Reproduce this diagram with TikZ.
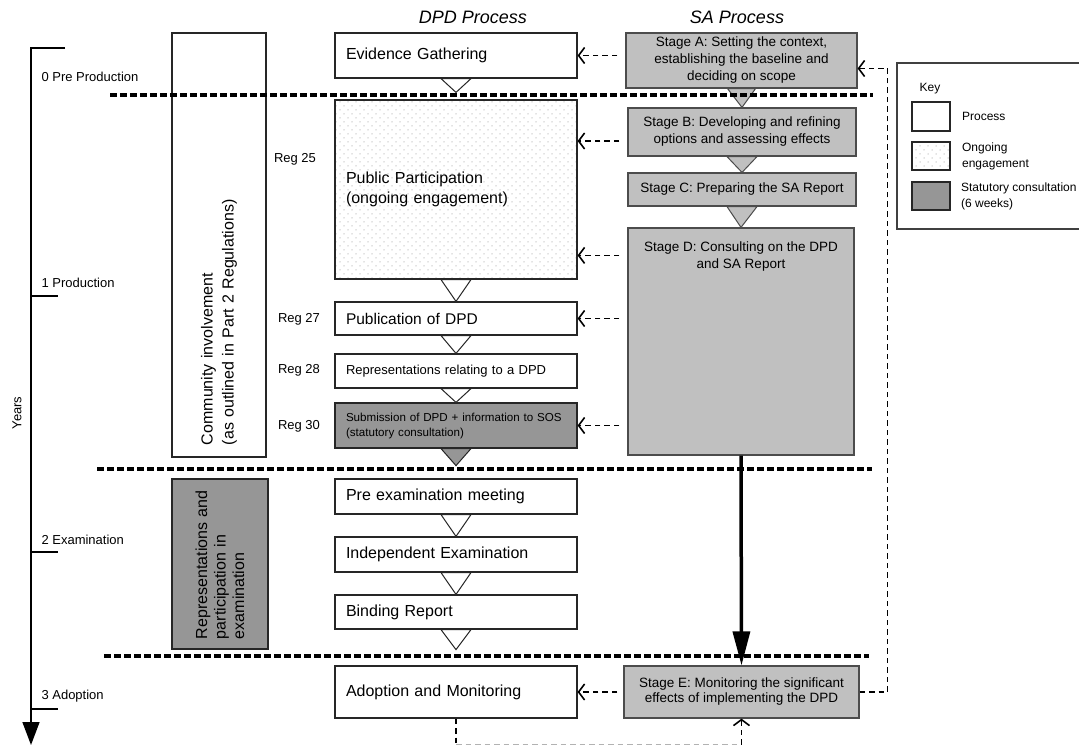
\documentclass[tikz,border=0pt]{standalone}
\usepackage{fontspec}
\setmainfont{Liberation Sans}
\usetikzlibrary{arrows.meta, patterns}

\definecolor{saGrey}{HTML}{C0C0C0}
\definecolor{statGrey}{HTML}{969696}

\pgfdeclarepatternformonly{fineDots}{\pgfqpoint{-1pt}{-1pt}}{\pgfqpoint{7pt}{7pt}}{\pgfqpoint{8pt}{8pt}}{%
  \pgfpathcircle{\pgfqpoint{0pt}{0pt}}{0.75pt}%
  \pgfpathcircle{\pgfqpoint{4pt}{4pt}}{0.75pt}\pgfusepath{fill}}

\begin{document}
\begin{tikzpicture}[x=1pt, y=-1pt,
    every node/.style={font=\fontsize{13}{16}\selectfont},
    dpdbox/.style={draw=black!85, line width=1.2pt, fill=white, text width=220pt, inner xsep=11pt, inner ysep=0pt, align=left, font=\fontsize{16}{20}\selectfont},
    sabox/.style={draw=black!70, line width=1.2pt, fill=saGrey, align=center, inner sep=0pt, font=\fontsize{13.5}{17}\selectfont},
    tri/.style={draw=black!85, line width=1pt, fill=white},
    satri/.style={draw=black!70, line width=1pt, fill=saGrey},
    dasharr/.style={line width=1.6pt, dash pattern=on 5.5pt off 4pt, -{Straight Barb[length=6pt, width=16pt]}},
    sepline/.style={line width=3.2pt, dash pattern=on 6.5pt off 3.5pt},
    keytext/.style={anchor=west, align=left, font=\fontsize{12}{16}\selectfont},
]
    \useasboundingbox (0,0) rectangle (1079,746);

    % Headers
    \node[font=\fontsize{18}{20}\selectfont\itshape] (hdDPD) at (473,17) {DPD Process};
    \node[font=\fontsize{18}{20}\selectfont\itshape] (hdSA) at (737,17) {SA Process};

    % Time axis
    \draw[line width=1.5pt, -{Triangle[length=23pt, width=17pt]}] (65,48) -- (31,48) -- (31,745);
    \draw[line width=1.5pt] (31,296) -- (58,296);
    \draw[line width=1.5pt] (31,552) -- (58,552);
    \draw[line width=1.5pt] (31,709) -- (58,709);
    \node[anchor=west] (ph0) at (38,77) {0 Pre Production};
    \node[anchor=west] (ph1) at (38,283) {1 Production};
    \node[anchor=west] (ph2) at (38,540) {2 Examination};
    \node[anchor=west] (ph3) at (38,696) {3 Adoption};
    \node[rotate=90] (years) at (17,413) {Years};

    % Community involvement
    \node[draw=black!85, line width=1.2pt, rotate=90, minimum width=424pt, minimum height=94pt, text width=400pt, inner xsep=12pt, align=left, font=\fontsize{16}{21}\selectfont] (commInv) at (219,245) {Community involvement\\(as outlined in Part 2 Regulations)};
    \node[draw=black!85, line width=1.2pt, fill=statGrey, rotate=90, minimum width=170pt, minimum height=96pt, text width=150pt, inner xsep=10pt, align=left, font=\fontsize{16}{18.5}\selectfont] (repExam) at (220,564) {Representations and\\participation in\\examination};

    % Regulations
    \node (reg25) at (295,159) {Reg 25};
    \node (reg27) at (299,319) {Reg 27};
    \node (reg28) at (299,370) {Reg 28};
    \node (reg30) at (299,426) {Reg 30};

    % DPD process
    \node[dpdbox, minimum height=45pt] (evid) at (456,55.5) {Evidence Gathering};
    \node[dpdbox, minimum height=179pt, pattern=fineDots, pattern color=gray!45] (pubPart) at (456,189.5) {Public Participation\\(ongoing engagement)};
    \node[dpdbox, minimum height=33pt, font=\fontsize{15.5}{19}\selectfont] (pubDPD) at (456,318.5) {Publication of DPD};
    \node[dpdbox, minimum height=34pt, font=\fontsize{13}{16}\selectfont] (repDPD) at (456,371) {Representations relating to a DPD};
    \node[dpdbox, minimum height=45pt, fill=statGrey, font=\fontsize{11.6}{15}\selectfont] (submit) at (456,425.5) {Submission of DPD + information to SOS\\(statutory consultation)};
    \node[dpdbox, minimum height=35pt] (preExam) at (456,496.5) {Pre examination meeting};
    \node[dpdbox, minimum height=35pt] (indepExam) at (456,554.5) {Independent Examination};
    \node[dpdbox, minimum height=34pt] (binding) at (456,612) {Binding Report};
    \node[dpdbox, minimum height=52pt] (adopt) at (456,692) {Adoption and Monitoring};

    \draw[tri] ([xshift=-15pt]evid.south) -- ([yshift=7pt]pubPart.north) -- ([xshift=15pt]evid.south) -- cycle;
    \draw[tri] ([xshift=-15pt]pubPart.south) -- (pubDPD.north) -- ([xshift=15pt]pubPart.south) -- cycle;
    \draw[tri] ([xshift=-15pt]pubDPD.south) -- (repDPD.north) -- ([xshift=15pt]pubDPD.south) -- cycle;
    \draw[tri] ([xshift=-15pt]repDPD.south) -- (submit.north) -- ([xshift=15pt]repDPD.south) -- cycle;
    \draw[tri, fill=statGrey] ([xshift=-15pt]submit.south) -- ([yshift=-17pt]submit.south) -- ([xshift=15pt]submit.south) -- cycle;
    \draw[tri] ([xshift=-15pt]preExam.south) -- (indepExam.north) -- ([xshift=15pt]preExam.south) -- cycle;
    \draw[tri] ([xshift=-15pt]indepExam.south) -- (binding.north) -- ([xshift=15pt]indepExam.south) -- cycle;
    \draw[tri] ([xshift=-15pt]binding.south) -- ([yshift=-20pt]binding.south) -- ([xshift=15pt]binding.south) -- cycle;

    % SA process
    \node[sabox, minimum width=231pt, minimum height=55pt] (stageA) at (741.5,60.5) {Stage A: Setting the context,\\establishing the baseline and\\deciding on scope};
    \node[sabox, minimum width=228pt, minimum height=48pt] (stageB) at (742,132) {Stage B: Developing and refining\\options and assessing effects};
    \node[sabox, minimum width=228pt, minimum height=33pt] (stageC) at (742,189.5) {Stage C: Preparing the SA Report};
    \node[sabox, minimum width=226pt, minimum height=227pt, label={[font=\fontsize{13.5}{17}\selectfont, align=center, anchor=north, inner sep=0pt, yshift=-14pt]north:Stage D: Consulting on the DPD\\and SA Report}] (stageD) at (741,341.5) {};
    \node[sabox, minimum width=235pt, minimum height=52pt, font=\fontsize{13.5}{15}\selectfont] (stageE) at (741.5,692) {Stage E: Monitoring the significant\\effects of implementing the DPD};

    \draw[satri] ([xshift=-14pt]stageA.south) -- (stageB.north) -- ([xshift=14pt]stageA.south) -- cycle;
    \draw[satri] ([xshift=-15pt]stageB.south) -- (stageC.north) -- ([xshift=15pt]stageB.south) -- cycle;
    \draw[satri] ([xshift=-15pt]stageC.south) -- (stageD.north) -- ([xshift=15pt]stageC.south) -- cycle;

    % Phase separators
    \draw[sepline] (110,95) -- (873,95);
    \draw[sepline] (97,469) -- (872,469);
    \draw[sepline] (104,656) -- (869,656);

    % Links between the two processes
    \draw[line width=3.5pt, -{Triangle[length=34pt, width=17pt]}] (stageD.south) -- (stageE.north);
    \draw[dasharr, shorten <=8pt] (stageA.west |- evid.east) -- (evid.east);
    \draw[dasharr, shorten <=8pt] ([yshift=-9pt]stageB.west) -- ([yshift=-9pt]stageB.west -| pubPart.east);
    \draw[dasharr, shorten <=8pt] ([yshift=-28pt]stageD.north west) -- ([yshift=-28pt]stageD.north west -| pubPart.east);
    \draw[dasharr, shorten <=8pt] (stageD.west |- pubDPD.east) -- (pubDPD.east);
    \draw[dasharr, shorten <=8pt] (stageD.west |- submit.east) -- (submit.east);
    \draw[dasharr, shorten <=6pt] (stageE.west) -- (adopt.east);

    % Feedback loops
    \draw[dasharr] (stageE.east) -- ++(28,0) |- ([yshift=-8pt]stageA.east);
    \draw[line width=1.6pt, dash pattern=on 5.5pt off 4pt] (adopt.south) -- ++(0,26) coordinate (loopL);
    \draw[line width=1.6pt, dash pattern=on 5.5pt off 4pt, black!30] (loopL) -- (loopL -| stageE.south) coordinate (loopR);
    \draw[dasharr] (loopR) -- (stageE.south);

    % Key
    \draw[line width=1.2pt, draw=black!75] (897,63) rectangle (1083,229);
    \node[font=\fontsize{12}{15}\selectfont] (keyTitle) at (930,89) {Key};
    \node[draw=black!85, line width=1.2pt, minimum width=38pt, minimum height=29pt] (keyProc) at (931,116.5) {};
    \node[draw=black!85, line width=1.2pt, pattern=fineDots, pattern color=gray!45, minimum width=38pt, minimum height=28pt] (keyEng) at (931,156) {};
    \node[draw=black!85, line width=1.2pt, fill=statGrey, minimum width=38pt, minimum height=28pt] (keyStat) at (931,196) {};
    \node[keytext] (keyProcTxt) at ([xshift=8pt]keyProc.east) {Process};
    \node[keytext] (keyEngTxt) at ([xshift=8pt]keyEng.east) {Ongoing\\engagement};
    \node[keytext] (keyStatTxt) at ([xshift=7pt]keyStat.east) {Statutory consultation\\(6 weeks)};
\end{tikzpicture}
\end{document}
